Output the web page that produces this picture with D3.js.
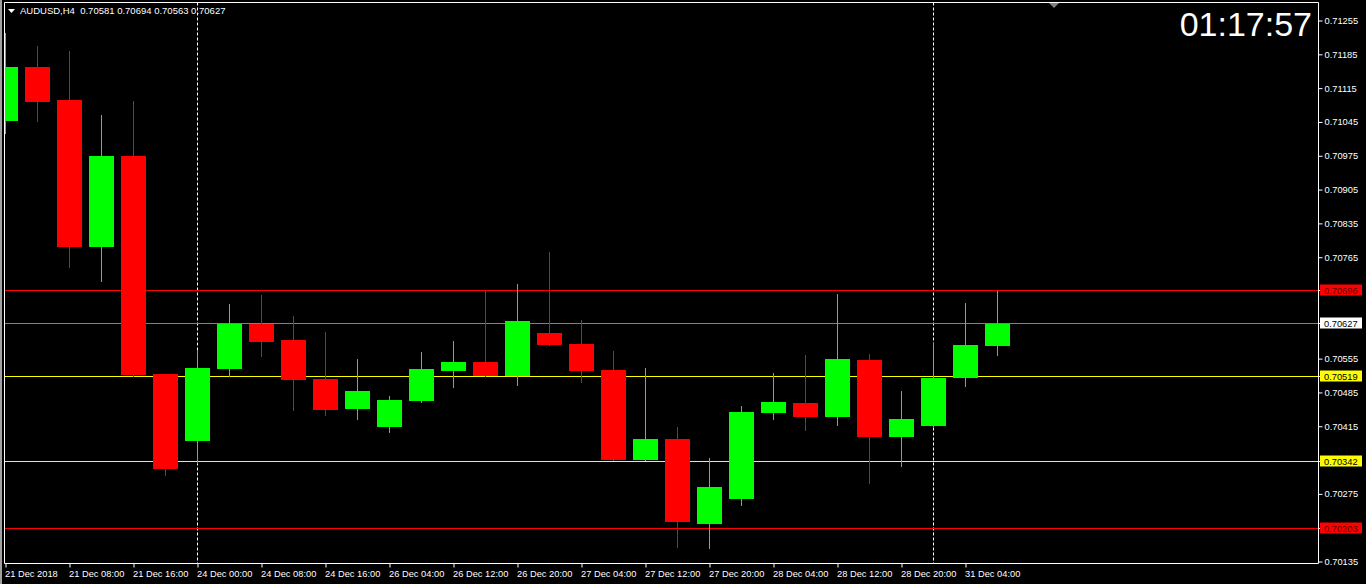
<!DOCTYPE html>
<html>
<head>
<meta charset="utf-8">
<script src="https://cdn.jsdelivr.net/npm/d3@7"></script>
<style>
  html, body { margin: 0; padding: 0; background: #000; overflow: hidden; }
  svg { display: block; }
  text { font-family: "Liberation Sans", Arial, sans-serif; }
</style>
</head>
<body>
<svg id="chart" width="1366" height="584"></svg>
<script>
// ---- Data ----
const times = [
  "21 Dec 00:00","21 Dec 04:00","21 Dec 08:00","21 Dec 12:00","21 Dec 16:00","21 Dec 20:00",
  "24 Dec 00:00","24 Dec 04:00","24 Dec 08:00","24 Dec 12:00","24 Dec 16:00","24 Dec 20:00",
  "26 Dec 04:00","26 Dec 08:00","26 Dec 12:00","26 Dec 16:00","26 Dec 20:00",
  "27 Dec 00:00","27 Dec 04:00","27 Dec 08:00","27 Dec 12:00","27 Dec 16:00","27 Dec 20:00",
  "28 Dec 00:00","28 Dec 04:00","28 Dec 08:00","28 Dec 12:00","28 Dec 16:00","28 Dec 20:00",
  "31 Dec 00:00","31 Dec 04:00","31 Dec 08:00"
];
const opens  = [0.71046,0.71159,0.71090,0.70787,0.70975,0.70523,0.70385,0.70534,0.70627,0.70594,0.70513,0.70451,0.70414,0.70467,0.70529,0.70548,0.70519,0.70608,0.70585,0.70531,0.70345,0.70389,0.70213,0.70265,0.70443,0.70463,0.70434,0.70552,0.70393,0.70416,0.70515,0.70581];
const highs  = [0.71229,0.71202,0.71192,0.71059,0.71088,0.70523,0.70573,0.70668,0.70687,0.70643,0.70610,0.70554,0.70477,0.70569,0.70592,0.70697,0.70710,0.70776,0.70635,0.70571,0.70536,0.70414,0.70349,0.70457,0.70525,0.70563,0.70689,0.70565,0.70488,0.70587,0.70670,0.70694];
const lows   = [0.71022,0.71046,0.70745,0.70716,0.70519,0.70314,0.70339,0.70519,0.70561,0.70449,0.70438,0.70430,0.70403,0.70465,0.70496,0.70519,0.70500,0.70583,0.70507,0.70345,0.70345,0.70165,0.70163,0.70252,0.70430,0.70407,0.70418,0.70298,0.70333,0.70416,0.70498,0.70563];
const closes = [0.71159,0.71087,0.70787,0.70975,0.70521,0.70327,0.70536,0.70627,0.70590,0.70511,0.70449,0.70488,0.70469,0.70534,0.70548,0.70519,0.70633,0.70583,0.70529,0.70345,0.70389,0.70217,0.70289,0.70445,0.70465,0.70434,0.70554,0.70393,0.70430,0.70515,0.70583,0.70627];

const xTickLabels = ["21 Dec 2018","21 Dec 08:00","21 Dec 16:00","24 Dec 00:00","24 Dec 08:00","24 Dec 16:00","26 Dec 04:00","26 Dec 12:00","26 Dec 20:00","27 Dec 04:00","27 Dec 12:00","27 Dec 20:00","28 Dec 04:00","28 Dec 12:00","28 Dec 20:00","31 Dec 04:00"];
const xTickTimes  = ["21 Dec 00:00","21 Dec 08:00","21 Dec 16:00","24 Dec 00:00","24 Dec 08:00","24 Dec 16:00","26 Dec 04:00","26 Dec 12:00","26 Dec 20:00","27 Dec 04:00","27 Dec 12:00","27 Dec 20:00","28 Dec 04:00","28 Dec 12:00","28 Dec 20:00","31 Dec 04:00"];
const yTickValues = [0.71255,0.71185,0.71115,0.71045,0.70975,0.70905,0.70835,0.70765,0.70555,0.70485,0.70415,0.70275,0.70135];

const levelPrices = [0.70696, 0.70519, 0.70342, 0.70203];
const levelColors = ["#ff0000", "#ffff00", "#ffff00", "#ff0000"];
const levelTextColors = ["#5a0000", "#000000", "#000000", "#5a0000"];
const bidPrice = 0.70627;
const separatorTimes = ["24 Dec 00:00", "31 Dec 00:00"];
const chartTitle = "AUDUSD,H4  0.70581 0.70694 0.70563 0.70627";
const clockText = "01:17:57";

// ---- Layout ----
const W = 1366, H = 584;
const pL = 4.5, pR = 1318.5, pT = 2.5, pB = 563.5;
const candleW = 25;

const svg = d3.select("#chart");
svg.append("rect").attr("width", W).attr("height", H).attr("fill", "#000");
svg.append("rect").attr("x", 0).attr("y", 0).attr("width", 2).attr("height", H).attr("fill", "#a0a0a0");

const x = d3.scalePoint().domain(times).range([5.5, 5.5 + 32 * (times.length - 1)]);
const y = d3.scaleLinear().domain([0.70135, 0.71255]).range([561.5, 20.5]);
const py = p => Math.round(y(p) - 0.5) + 0.5;

svg.append("clipPath").attr("id", "plotclip").append("rect")
  .attr("x", pL + 0.5).attr("y", pT + 0.5).attr("width", pR - pL - 1).attr("height", pB - pT - 1);
const plot = svg.append("g").attr("clip-path", "url(#plotclip)");

// separators
plot.selectAll("line.sep").data(separatorTimes).join("line").attr("class", "sep")
  .attr("x1", d => x(d)).attr("x2", d => x(d))
  .attr("y1", pT).attr("y2", pB)
  .attr("stroke", "#fff").attr("stroke-width", 1).attr("stroke-dasharray", "3,2");

// level lines
plot.selectAll("line.lvl").data(levelPrices).join("line").attr("class", "lvl")
  .attr("x1", pL).attr("x2", pR)
  .attr("y1", d => py(d)).attr("y2", d => py(d))
  .attr("stroke", (d, i) => levelColors[i]).attr("stroke-width", 1);

// bid line
plot.append("line").attr("x1", pL).attr("x2", pR)
  .attr("y1", py(bidPrice)).attr("y2", py(bidPrice))
  .attr("stroke", "#808080").attr("stroke-width", 1);

// candles
const candles = times.map((t, i) => ({ t, o: opens[i], h: highs[i], l: lows[i], c: closes[i] }));
const cg = plot.selectAll("g.candle").data(candles).join("g").attr("class", "candle");
cg.append("line")
  .attr("x1", d => x(d.t)).attr("x2", d => x(d.t))
  .attr("y1", d => Math.round(y(d.h))).attr("y2", d => Math.round(y(d.l)) + 1)
  .attr("stroke", d => d.c >= d.o ? "#00ff00" : "#ff0000").attr("stroke-width", 1)
  .attr("shape-rendering", "crispEdges");
cg.append("rect")
  .attr("x", d => x(d.t) - candleW / 2)
  .attr("y", d => Math.round(y(Math.max(d.o, d.c))))
  .attr("width", candleW)
  .attr("height", d => Math.max(1, Math.round(y(Math.min(d.o, d.c))) - Math.round(y(Math.max(d.o, d.c)))))
  .attr("fill", d => d.c >= d.o ? "#00ff00" : "#ff0000")
  .attr("shape-rendering", "crispEdges");

// frame
svg.append("line").attr("x1", pL).attr("x2", pL).attr("y1", pT).attr("y2", pB).attr("stroke", "#fff");
svg.append("line").attr("x1", pR).attr("x2", pR).attr("y1", pT).attr("y2", pB).attr("stroke", "#fff");
svg.append("line").attr("x1", pL).attr("x2", pR).attr("y1", pT).attr("y2", pT).attr("stroke", "#fff");
svg.append("line").attr("x1", pL).attr("x2", pR).attr("y1", pB).attr("y2", pB).attr("stroke", "#fff");

// chart shift marker
svg.append("path").attr("d", "M1049,3 L1059,3 L1054,8 Z").attr("fill", "#808080");

// y axis
const yAxis = d3.axisRight(y).tickValues(yTickValues).tickSize(4).tickPadding(2).tickFormat(d3.format(".5f"));
const yg = svg.append("g").attr("transform", `translate(${pR},0)`).call(yAxis);
yg.select(".domain").remove();
yg.selectAll(".tick line").attr("stroke", "#fff");
yg.selectAll(".tick text").attr("fill", "#fff").attr("font-size", "9.3px")
  .attr("font-family", "'Liberation Sans', Arial, sans-serif");

// highlighted price boxes
const boxes = levelPrices.map((p, i) => ({ p, bg: levelColors[i], fg: levelTextColors[i] }))
  .concat([{ p: bidPrice, bg: "#ffffff", fg: "#000000" }]);
const bgG = svg.append("g");
bgG.selectAll("line").data(boxes).join("line")
  .attr("x1", pR).attr("x2", pR + 4).attr("y1", d => py(d.p)).attr("y2", d => py(d.p))
  .attr("stroke", "#fff");
bgG.selectAll("rect").data(boxes).join("rect")
  .attr("x", 1320).attr("y", d => py(d.p) - 6).attr("width", 42).attr("height", 11)
  .attr("fill", d => d.bg);
bgG.selectAll("text").data(boxes).join("text")
  .attr("x", 1324).attr("y", d => py(d.p)).attr("dy", "0.35em")
  .attr("font-size", "9.3px").attr("fill", d => d.fg)
  .text(d => d3.format(".5f")(d.p));

// x axis
const xAxis = d3.axisBottom(x).tickValues(xTickTimes).tickSize(4).tickPadding(3)
  .tickFormat((d, i) => xTickLabels[i]);
const xg = svg.append("g").attr("transform", `translate(-0.5,${pB})`).call(xAxis);
xg.select(".domain").remove();
xg.selectAll(".tick line").attr("stroke", "#fff").attr("transform", "translate(0.5,0)");
xg.selectAll(".tick text").attr("fill", "#fff").attr("font-size", "9.3px")
  .attr("text-anchor", "start").attr("x", -0.5)
  .attr("font-family", "'Liberation Sans', Arial, sans-serif");

// title
svg.append("path").attr("d", "M8,9 L15,9 L11.5,13 Z").attr("fill", "#fff");
svg.append("text").attr("x", 20).attr("y", 14).attr("font-size", "9.5px").attr("fill", "#fff")
  .style("white-space", "pre").text(chartTitle);

// clock
svg.append("text").attr("x", 1312).attr("y", 35.5).attr("text-anchor", "end")
  .attr("font-size", "34px").attr("fill", "#fff").text(clockText);
</script>
</body>
</html>
